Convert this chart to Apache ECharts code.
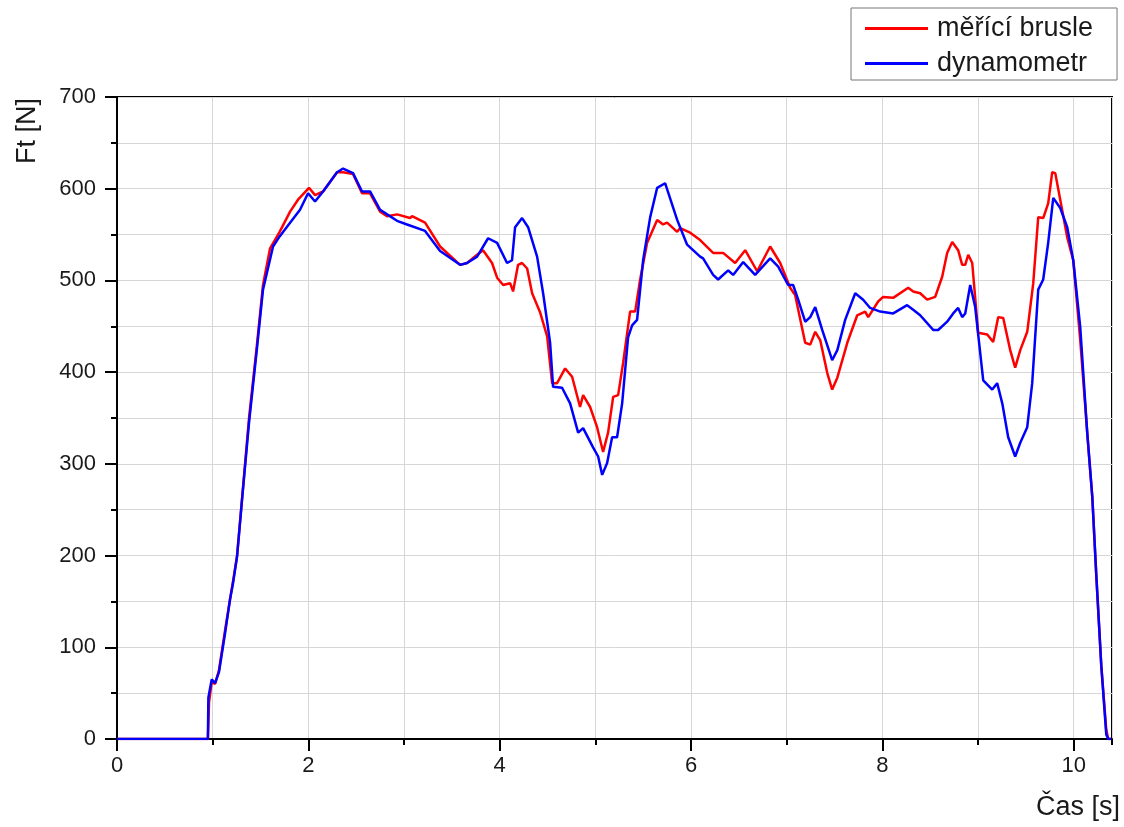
<!DOCTYPE html>
<html>
<head>
<meta charset="utf-8">
<script src="https://cdn.jsdelivr.net/npm/echarts@6/dist/echarts.min.js"></script>
<style>
  html, body { margin: 0; padding: 0; background: #fff; }
  #chart { width: 1124px; height: 827px; }
</style>
</head>
<body>
<div id="chart"></div>
<script>
// ---- data (time [s], force [N]) ----
const seriesNames = ['měřící brusle', 'dynamometr'];
const xTitle = 'Čas [s]';
const yTitle = 'Ft [N]';

const brusleData = [
  [0,0],[0.95,0],[0.962,40],[0.99,62],[1.025,60],[1.066,75],[1.129,118],[1.181,152],[1.213,172],
  [1.255,200],[1.307,262],[1.38,350],[1.461,428],[1.526,495],[1.6,535],[1.7,553],[1.809,575],
  [1.892,588],[2.007,601],[2.07,593],[2.154,597],[2.3,618],[2.363,618],[2.467,616],[2.561,595],
  [2.645,595],[2.75,575],[2.823,570],[2.927,572],[3.063,568],[3.084,570],[3.22,563],[3.377,537],
  [3.586,517],[3.659,519],[3.764,528],[3.826,533],[3.92,519],[3.973,503],[4.036,495],[4.109,497],
  [4.14,488],[4.192,517],[4.234,519],[4.287,513],[4.339,486],[4.423,465],[4.496,439],[4.548,388],
  [4.6,388],[4.684,404],[4.757,395],[4.84,362],[4.872,375],[4.945,362],[5.018,340],[5.081,313],
  [5.133,334],[5.186,373],[5.238,375],[5.29,410],[5.363,466],[5.416,466],[5.468,501],[5.541,541],
  [5.646,566],[5.708,561],[5.75,563],[5.855,553],[5.886,557],[5.991,552],[6.095,544],[6.231,530],
  [6.336,530],[6.461,519],[6.566,533],[6.691,510],[6.827,537],[6.932,519],[7.036,492],[7.088,484],
  [7.193,432],[7.246,430],[7.298,444],[7.35,435],[7.424,399],[7.475,381],[7.529,394],[7.633,432],
  [7.737,462],[7.82,466],[7.852,460],[7.956,477],[8.008,482],[8.113,481],[8.27,492],[8.322,488],
  [8.395,486],[8.468,479],[8.552,482],[8.625,504],[8.677,530],[8.73,542],[8.792,533],[8.834,517],
  [8.866,517],[8.897,528],[8.939,519],[9.001,443],[9.096,441],[9.158,433],[9.211,460],[9.263,459],
  [9.336,424],[9.388,405],[9.441,424],[9.514,444],[9.577,497],[9.629,569],[9.681,568],[9.733,584],
  [9.775,618],[9.807,617],[9.859,588],[9.932,547],[9.995,522],[10.068,435],[10.141,334],[10.194,264],
  [10.235,180],[10.288,80],[10.34,10],[10.361,0],[10.392,0]
];

const dynamometrData = [
  [0,0],[0.95,0],[0.955,45],[0.99,65],[1.025,61],[1.066,73],[1.129,115],[1.181,152],[1.213,170],
  [1.255,199],[1.307,261],[1.38,345],[1.461,424],[1.526,490],[1.631,537],[1.7,548],[1.809,563],
  [1.913,577],[1.997,595],[2.07,586],[2.154,597],[2.3,618],[2.363,622],[2.467,617],[2.561,597],
  [2.645,597],[2.75,577],[2.823,572],[2.927,565],[3.032,561],[3.22,554],[3.377,532],[3.586,517],
  [3.659,519],[3.764,526],[3.879,546],[3.973,541],[4.077,519],[4.129,522],[4.161,558],[4.234,568],
  [4.297,558],[4.391,526],[4.454,486],[4.527,432],[4.558,384],[4.652,383],[4.736,366],[4.82,334],
  [4.872,339],[4.976,318],[5.029,308],[5.071,288],[5.123,301],[5.175,329],[5.227,329],[5.28,366],
  [5.342,438],[5.384,451],[5.436,457],[5.499,522],[5.573,569],[5.646,601],[5.729,606],[5.855,566],
  [5.959,539],[6.095,526],[6.126,524],[6.231,506],[6.283,501],[6.388,511],[6.44,506],[6.545,520],
  [6.67,506],[6.827,524],[6.911,515],[7.015,495],[7.067,495],[7.12,479],[7.193,455],[7.246,460],
  [7.298,471],[7.371,446],[7.475,413],[7.529,424],[7.611,457],[7.716,486],[7.799,479],[7.872,470],
  [7.977,466],[8.113,464],[8.259,473],[8.322,468],[8.395,462],[8.531,446],[8.583,446],[8.677,455],
  [8.74,464],[8.792,470],[8.834,460],[8.866,464],[8.918,495],[8.97,471],[9.054,391],[9.148,381],
  [9.2,388],[9.253,366],[9.315,329],[9.388,308],[9.441,323],[9.514,340],[9.566,388],[9.629,490],
  [9.681,501],[9.733,541],[9.786,590],[9.859,579],[9.932,558],[9.995,522],[10.068,449],[10.141,334],
  [10.194,264],[10.235,180],[10.288,80],[10.34,5],[10.361,0],[10.392,0]
];

// ---- chart ----
const FONT = '"Liberation Sans", Arial, sans-serif';
const chart = echarts.init(document.getElementById('chart'), null, { renderer: 'canvas' });

const gridLine = { show: true, lineStyle: { color: '#d6d6d6', width: 1 } };

chart.setOption({
  animation: false,
  backgroundColor: '#ffffff',
  grid: { left: 117, top: 97, right: 12, bottom: 88, show: true, borderColor: '#000', borderWidth: 2, backgroundColor: 'transparent' },
  legend: {
    orient: 'vertical', left: 851, top: 8,
    padding: [7, 24, 3, 14], itemGap: 8,
    itemWidth: 63, itemHeight: 3, icon: 'rect',
    borderColor: '#777', borderWidth: 1,
    textStyle: { fontSize: 27, color: '#1a1a1a', fontFamily: FONT, padding: [0, 0, 0, 4] },
    data: seriesNames
  },
  xAxis: [
    {
      type: 'value', min: 0, max: 10.4, interval: 2,
      axisLine: { show: true, onZero: false, lineStyle: { color: '#000', width: 2 } },
      axisTick: { show: true, length: 12, lineStyle: { color: '#000', width: 2 } },
      axisLabel: { show: true, fontSize: 22, margin: 16, color: '#1a1a1a', fontFamily: FONT, showMaxLabel: false },
      splitLine: { show: false }
    },
    {
      type: 'value', min: 0, max: 10.4, interval: 1, position: 'bottom',
      axisLine: { show: false },
      axisTick: { show: true, length: 6, lineStyle: { color: '#000', width: 2 } },
      axisLabel: { show: false },
      splitLine: gridLine
    }
  ],
  yAxis: {
    type: 'value', min: 0, max: 700, interval: 100,
    axisLine: { show: true, onZero: false, lineStyle: { color: '#000', width: 2 } },
    axisTick: { show: true, length: 12, lineStyle: { color: '#000', width: 2 } },
    minorTick: { show: true, splitNumber: 2, length: 6, lineStyle: { color: '#000', width: 2 } },
    axisLabel: { fontSize: 22, margin: 21, color: '#1a1a1a', fontFamily: FONT },
    splitLine: gridLine,
    minorSplitLine: gridLine
  },
  graphic: [
    { type: 'text', x: 28, y: 131, rotation: Math.PI / 2,
      style: { text: yTitle, fontSize: 27, fontFamily: FONT, fill: '#1a1a1a', align: 'center', verticalAlign: 'middle' } },
    { type: 'text', x: 1120, y: 808,
      style: { text: xTitle, fontSize: 27, fontFamily: FONT, fill: '#1a1a1a', align: 'right', verticalAlign: 'middle' } }
  ],
  series: [
    { name: seriesNames[0], type: 'line', data: brusleData, showSymbol: false, symbol: 'none',
      lineStyle: { color: '#ff0000', width: 2.5 }, itemStyle: { color: '#ff0000' }, z: 3 },
    { name: seriesNames[1], type: 'line', data: dynamometrData, showSymbol: false, symbol: 'none',
      lineStyle: { color: '#0000ff', width: 2.5 }, itemStyle: { color: '#0000ff' }, z: 4 }
  ]
});
</script>
</body>
</html>
